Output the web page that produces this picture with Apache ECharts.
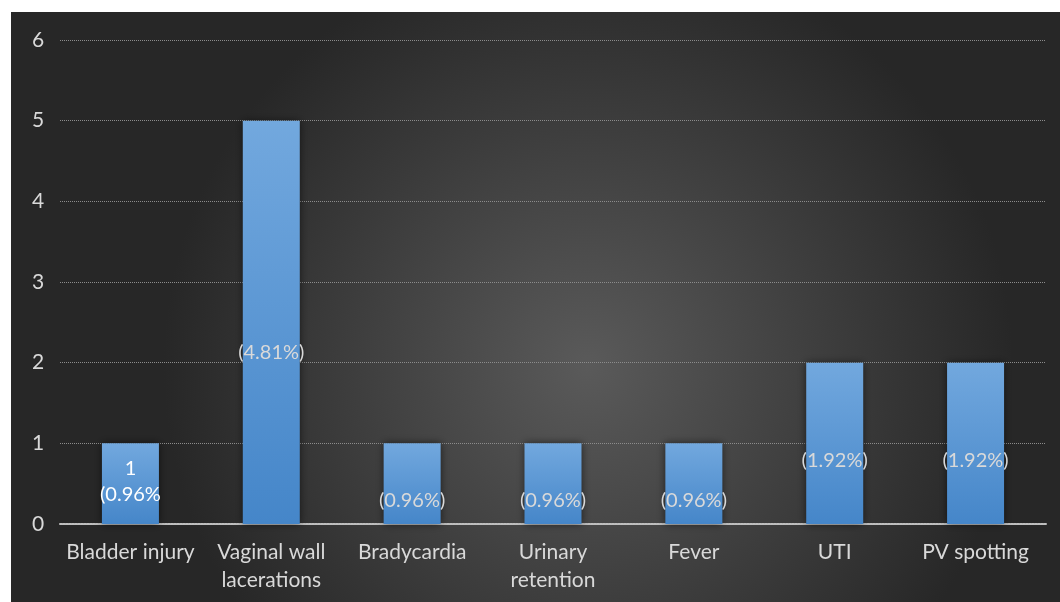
<!DOCTYPE html>
<html>
<head>
<meta charset="utf-8">
<script src="https://cdn.jsdelivr.net/npm/echarts@6/dist/echarts.min.js"></script>
<style>
  html, body { margin: 0; padding: 0; background: #ffffff; }
  #chart { position: absolute; left: 11px; top: 12px; width: 1049px; height: 590px; }
</style>
</head>
<body>
<div id="chart"></div>
<script>
// Complications after the procedure: counts with their percentages
const categories = ['Bladder injury', 'Vaginal wall\nlacerations', 'Bradycardia', 'Urinary\nretention', 'Fever', 'UTI', 'PV spotting'];
const counts = [1, 5, 1, 1, 1, 2, 2];
const percentLabels = ['1\n(0.96%', '(4.81%)', '(0.96%)', '(0.96%)', '(0.96%)', '(1.92%)', '(1.92%)'];
const yTicks = [0, 1, 2, 3, 4, 5, 6];

// vertical nudge of each label from the bar centre
const labelShift = [-2, 30, 17, 17, 17, 17, 17];

const FONT = 'Lato, "Open Sans", sans-serif';

const chart = echarts.init(document.getElementById('chart'), null, { renderer: 'canvas' });

const barData = counts.map((v, i) => ({
  value: v,
  label: {
    offset: [0, labelShift[i]],
    color: i === 0 ? '#ffffff' : '#d9d9d9',
    lineHeight: 26
  }
}));

chart.setOption({
  backgroundColor: {
    type: 'radial', x: 0.55, y: 0.6, r: 0.72,
    colorStops: [
      { offset: 0, color: '#5a5a5a' },
      { offset: 1, color: '#272727' }
    ]
  },
  animation: false,
  grid: { left: 49, right: 14, top: 28, bottom: 78 },
  xAxis: {
    type: 'category',
    data: categories,
    axisTick: { show: false },
    axisLine: { show: true, lineStyle: { color: '#bfbfbf', width: 2, type: [2, 1] } },
    axisLabel: { color: '#d9d9d9', fontFamily: FONT, fontSize: 21, lineHeight: 28, margin: 14, interval: 0 }
  },
  yAxis: {
    type: 'value',
    min: yTicks[0],
    max: yTicks[yTicks.length - 1],
    interval: 1,
    axisLine: { show: false },
    axisTick: { show: false },
    axisLabel: { color: '#d9d9d9', fontFamily: FONT, fontSize: 21, margin: 22, align: 'center' },
    splitLine: { lineStyle: { color: '#8c8c8c', width: 1, type: [1, 1] } }
  },
  series: [{
    type: 'bar',
    data: barData,
    barWidth: 57,
    itemStyle: {
      color: {
        type: 'linear', x: 0, y: 0, x2: 0, y2: 1,
        colorStops: [
          { offset: 0, color: '#72a8de' },
          { offset: 1, color: '#4586c9' }
        ]
      },
      shadowColor: 'rgba(0,0,0,0.55)',
      shadowBlur: 8,
      shadowOffsetX: 0,
      shadowOffsetY: 0
    },
    label: {
      show: true,
      position: 'inside',
      fontFamily: FONT,
      fontSize: 20,
      formatter: p => percentLabels[p.dataIndex]
    }
  }]
});
</script>
</body>
</html>
